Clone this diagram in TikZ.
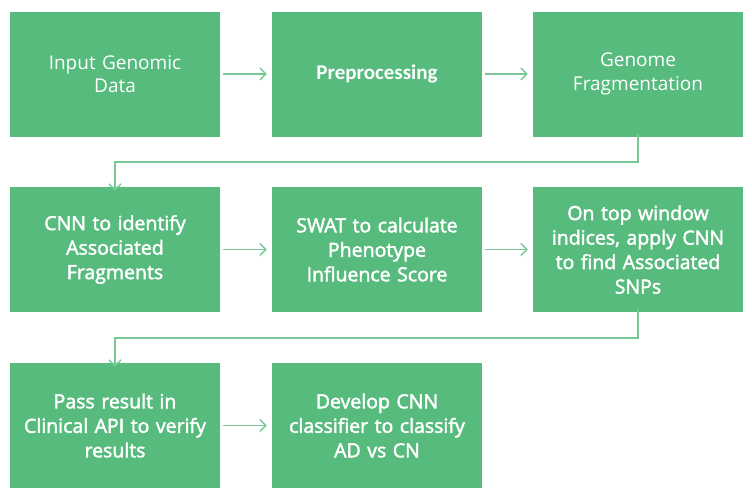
\documentclass[tikz,border=0pt]{standalone}
\usepackage{fontspec}
\setmainfont{Open Sans}
\newfontfamily\medfont[RawFeature={embolden=2.2}]{Open Sans}
\newfontfamily\calfont{Carlito}
\usetikzlibrary{arrows.meta}
\definecolor{boxgreen}{RGB}{87,187,126}
\definecolor{linegreen}{RGB}{120,200,150}
\begin{document}
\begin{tikzpicture}[x=1pt,y=-1pt,
  stepbox/.style={fill=boxgreen, draw=none, minimum width=210pt, minimum height=125pt,
    text width=208pt, align=center, text=white, inner sep=0pt,
    font=\fontsize{19}{23.5}\selectfont},
  medbox/.style={stepbox, font=\medfont\fontsize{19.5}{24.5}\selectfont},
  conn/.style={draw=linegreen, line width=1.4pt, -{Straight Barb[length=6pt,width=12pt,line width=1.4pt]}}
]
\useasboundingbox (0,0) rectangle (752,496);
\node[stepbox] (a) at (115,74) {Input Genomic\\Data};
\node[stepbox, font=\calfont\bfseries\fontsize{21}{24}\selectfont] (b) at (377,74) {Preprocessing};
\node[stepbox] (c) at (638,74) {Genome\\Fragmentation};
\node[medbox] (d) at (115,249.5) {CNN to identify\\Associated\\Fragments};
\node[medbox] (e) at (377,249.5) {SWAT to calculate\\Phenotype\\Influence Score};
\node[medbox] (f) at (638,249.5) {On top window\\indices, apply CNN\\to find Associated\\SNPs};
\node[medbox] (g) at (115,425.5) {Pass result in\\Clinical API to verify\\results};
\node[medbox] (h) at (377,425.5) {Develop CNN\\classifier to classify\\AD vs CN};
\coordinate (c1) at (638,162);
\coordinate (c2) at (115,162);
\coordinate (f1) at (638,338);
\coordinate (f2) at (115,338);
\draw[conn] ([xshift=3pt]a.east) -- ([xshift=-5pt]b.west);
\draw[conn] ([xshift=3pt]b.east) -- ([xshift=-5pt]c.west);
\draw[conn] ([xshift=3pt]d.east) -- ([xshift=-5pt]e.west);
\draw[conn] ([xshift=3pt]e.east) -- ([xshift=-5pt]f.west);
\draw[conn] ([xshift=3pt]g.east) -- ([xshift=-5pt]h.west);
\draw[conn] ([yshift=3pt]c.south) -- (c1) -- (c2) -- ([yshift=-4pt]d.north);
\draw[conn] ([yshift=3pt]f.south) -- (f1) -- (f2) -- ([yshift=-4pt]g.north);
\end{tikzpicture}
\end{document}
